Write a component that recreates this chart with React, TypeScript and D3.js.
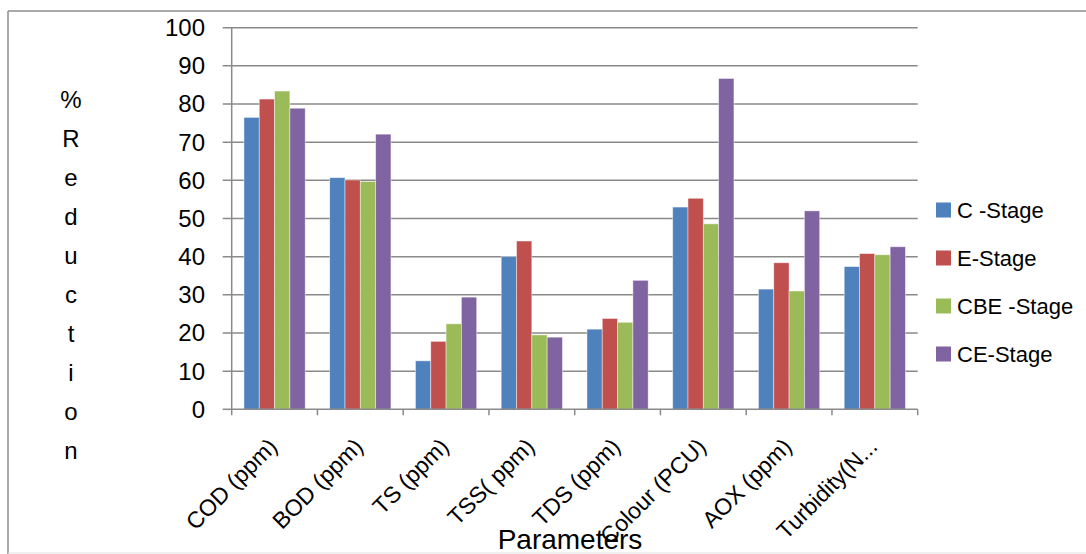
import React from "react";
import * as d3 from "d3";

const categories = [
  "COD (ppm)",
  "BOD (ppm)",
  "TS (ppm)",
  "TSS( ppm)",
  "TDS (ppm)",
  "Colour (PCU)",
  "AOX (ppm)",
  "Turbidity(N...",
];
const seriesNames = ["C -Stage", "E-Stage", "CBE -Stage", "CE-Stage"];
const cStage = [76.5, 60.7, 12.7, 40.0, 21.0, 53.0, 31.5, 37.4];
const eStage = [81.3, 60.1, 17.8, 44.1, 23.8, 55.3, 38.4, 40.8];
const cbeStage = [83.4, 59.7, 22.4, 19.5, 22.8, 48.6, 31.0, 40.5];
const ceStage = [78.9, 72.1, 29.4, 18.9, 33.8, 86.7, 52.0, 42.6];
const seriesValues = [cStage, eStage, cbeStage, ceStage];
const colors = ["#4F81BD", "#C0504D", "#9BBB59", "#8064A2"];
const yTicks = [0, 10, 20, 30, 40, 50, 60, 70, 80, 90, 100];
const yTitle = "%Reduction";
const xTitle = "Parameters";

const W = 1086;
const H = 554;
const plotLeft = 231.7;
const plotRight = 917.7;
const plotTop = 27.7;
const plotBottom = 409.3;
const FONT = "'Liberation Sans', Arial, sans-serif";

export default function App() {
  const x0 = d3.scaleBand<string>().domain(categories).range([plotLeft, plotRight]).padding(0);
  const x1 = d3
    .scaleBand<string>()
    .domain(seriesNames)
    .range([0, x0.bandwidth()])
    .paddingInner(0)
    .paddingOuter(0.8);
  const y = d3.scaleLinear().domain([0, 100]).range([plotBottom, plotTop]);
  const gridColor = "#8a8a8a";

  return (
    <svg
      width={W}
      height={H}
      style={{ position: "absolute", left: 0, top: 0, background: "#fff" }}
      fontFamily={FONT}
    >
      {/* chart border */}
      <line x1={8} y1={11} x2={W} y2={11} stroke="#8c8c8c" strokeWidth={1.5} />
      <line x1={8} y1={11} x2={8} y2={H} stroke="#8c8c8c" strokeWidth={1.5} />
      <line x1={8} y1={553} x2={W} y2={553} stroke="#e2e2e2" strokeWidth={1} />

      {/* gridlines and y ticks */}
      {yTicks.map((t) => (
        <g key={t}>
          <line
            x1={plotLeft - 9}
            x2={t === 0 ? plotLeft : plotRight}
            y1={y(t)}
            y2={y(t)}
            stroke={gridColor}
            strokeWidth={1.5}
          />
          <text
            x={205}
            y={y(t)}
            dy="0.35em"
            textAnchor="end"
            fontSize={24}
            fill="#000"
          >
            {t}
          </text>
        </g>
      ))}

      {/* bars */}
      {categories.map((c, i) => (
        <g key={c} transform={`translate(${x0(c)},0)`}>
          {seriesNames.map((s, j) => {
            const v = seriesValues[j][i];
            return (
              <rect
                key={s}
                x={x1(s)}
                y={y(v)}
                width={x1.bandwidth()}
                height={plotBottom - y(v)}
                fill={colors[j]}
                stroke="rgba(255,255,255,0.55)"
                strokeWidth={0.8}
              />
            );
          })}
        </g>
      ))}

      {/* axes */}
      <line x1={plotLeft} x2={plotLeft} y1={plotTop} y2={plotBottom + 6} stroke={gridColor} strokeWidth={1.5} />
      <line x1={plotLeft} x2={plotRight} y1={plotBottom} y2={plotBottom} stroke={gridColor} strokeWidth={1.5} />
      {categories.map((c) => (
        <line
          key={"t" + c}
          x1={(x0(c) as number) + x0.bandwidth()}
          x2={(x0(c) as number) + x0.bandwidth()}
          y1={plotBottom}
          y2={plotBottom + 6}
          stroke={gridColor}
          strokeWidth={1.5}
        />
      ))}

      {/* x labels */}
      {categories.map((c) => {
        const cx = (x0(c) as number) + x0.bandwidth() / 2 + 4;
        const cy = 448;
        return (
          <text
            key={"l" + c}
            transform={`translate(${cx},${cy}) rotate(-45)`}
            textAnchor="end"
            fontSize={23}
            fill="#000"
          >
            {c}
          </text>
        );
      })}

      {/* y title stacked letters */}
      {yTitle.split("").map((ch, k) => (
        <text
          key={"y" + k}
          x={71}
          y={100 + k * 39}
          dy="0.35em"
          textAnchor="middle"
          fontSize={24}
          fill="#000"
        >
          {ch}
        </text>
      ))}

      {/* x title */}
      <text x={570} y={549} textAnchor="middle" fontSize={28} fill="#000">
        {xTitle}
      </text>

      {/* legend */}
      {seriesNames.map((s, j) => (
        <g key={"lg" + s} transform={`translate(936,${210 + j * 48})`}>
          <rect x={0} y={-7.5} width={15} height={15} fill={colors[j]} />
          <text x={21} y={0} dy="0.36em" fontSize={22} fill="#000">
            {s}
          </text>
        </g>
      ))}
    </svg>
  );
}
